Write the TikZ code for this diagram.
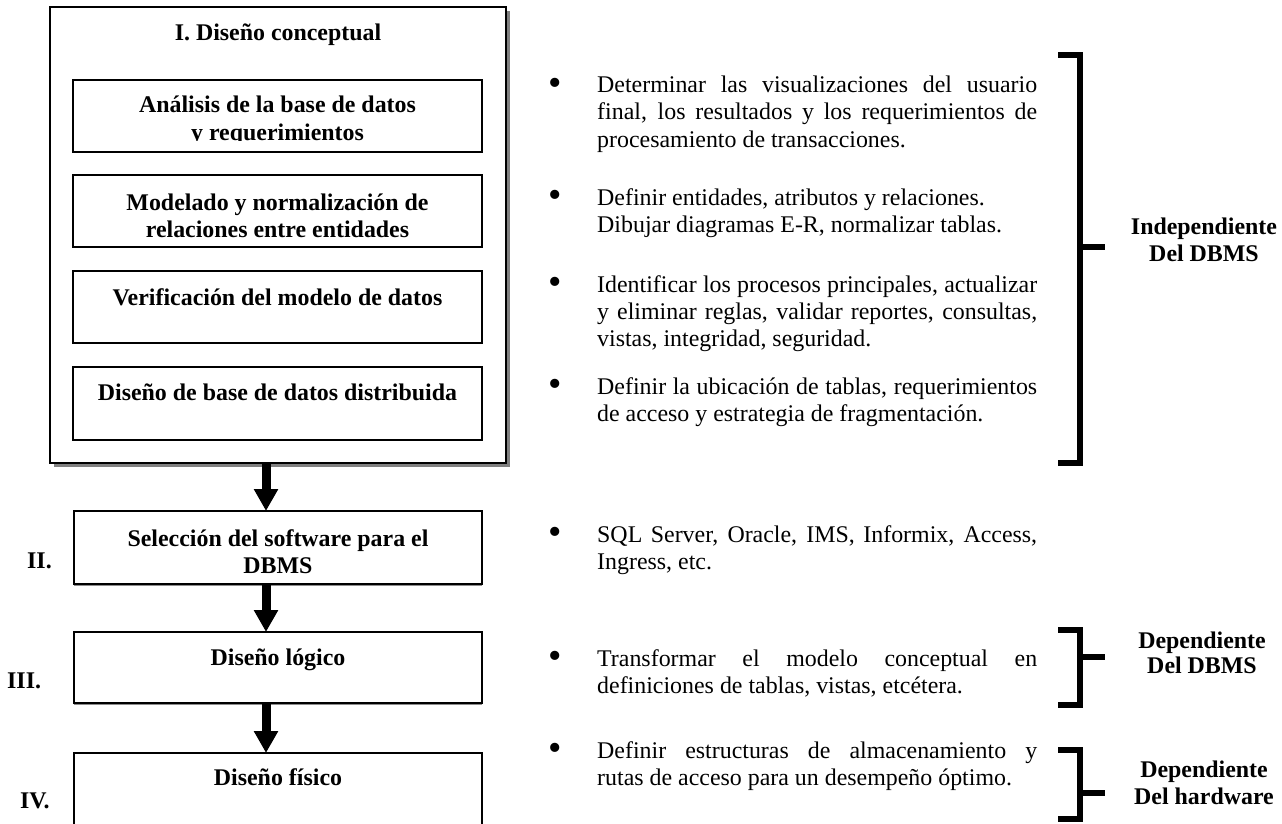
\documentclass[tikz,border=0pt]{standalone}
\usepackage{fontspec}
\usepackage{graphicx}
\setmainfont{Liberation Serif}
\usetikzlibrary{arrows.meta,shadows}
\begin{document}
\begin{tikzpicture}[x=1pt,y=-1pt,
  box/.style={draw=black, line width=2pt, fill=white, inner sep=0pt, outer sep=0pt, anchor=north west},
  bigshadow/.style={drop shadow={shadow xshift=4pt, shadow yshift=-4pt, fill=black!50, opacity=1}},
  thinshadow/.style={drop shadow={shadow xshift=0pt, shadow yshift=-2pt, fill=black!45, opacity=1}},
  bt/.style={font=\fontsize{23.9}{27.4}\selectfont\bfseries, inner sep=0pt, anchor=base},
  lt/.style={font=\fontsize{23.9}{27.4}\selectfont\bfseries, inner sep=0pt, anchor=base west},
  rt/.style={font=\fontsize{23.9}{27.4}\selectfont, inner sep=0pt, anchor=base west},
  bul/.style={font=\fontsize{23.9}{27.4}\selectfont, inner sep=0pt, anchor=base west, yshift=-2.5pt},
  flow/.style={line width=9pt, -{Triangle[width=23pt,length=22pt]}},
  brk/.style={line width=6pt}]
\clip (0,0) rectangle (1282,824);
\fill[white] (0,0) rectangle (1282,824);

% ---------- left column boxes ----------
\node[box, bigshadow, minimum width=456pt, minimum height=456pt] (outer) at (50,7) {};
\node[box, minimum width=409pt, minimum height=72pt] (c1) at (73,80) {};
\node[box, minimum width=409pt, minimum height=72pt] (c2) at (73,175) {};
\node[box, minimum width=409pt, minimum height=72pt] (c3) at (73,271) {};
\node[box, minimum width=409pt, minimum height=73pt] (c4) at (73,367) {};
\node[box, thinshadow, minimum width=408pt, minimum height=73pt] (b2) at (74,511) {};
\node[box, thinshadow, minimum width=408pt, minimum height=71pt] (b3) at (74,632) {};
\node[box, minimum width=408pt, minimum height=90pt] (b4) at (74,753) {};

% texts in boxes
\node[bt] (t0) at (278,41) {I. Diseño conceptual};
\begin{scope}
\clip (73,80) rectangle (482,140.5);
\node[bt] (t1a) at (277.5,113) {Análisis de la base de datos};
\node[bt] (t1b) at (277.5,140) {y requerimientos};
\end{scope}
\node[bt] (t2a) at (277.5,210) {Modelado y normalización de};
\node[bt] (t2b) at (277.5,237) {relaciones entre entidades};
\node[bt] (t3) at (277.5,305) {Verificación del modelo de datos};
\node[bt] (t4) at (277.5,400) {Diseño de base de datos distribuida};
\node[bt] (s2a) at (278,546) {Selección del software para el};
\node[bt] (s2b) at (278,573) {DBMS};
\node[bt] (s3) at (278,665) {Diseño lógico};
\node[bt] (s4) at (278,785) {Diseño físico};

% roman labels
\node[lt] (r2) at (27,568) {II.};
\node[lt] (r3) at (7,688) {III.};
\node[lt] (r4) at (20,808) {IV.};

% arrows
\coordinate (ax) at (266,0);
\draw[flow] (outer.south -| ax) -- (b2.north -| ax);
\draw[flow] (b2.south -| ax) -- (b3.north -| ax);
\draw[flow] (b3.south -| ax) -- (b4.north -| ax);

% ---------- right column text ----------
\def\jl#1{\makebox[440pt][s]{#1}}
\def\bu{\scalebox{1.6}{\textbullet}}
\node[bul] (u1) at (548,93) {\bu};
\node[rt] (p1a) at (597,93) {\jl{Determinar las visualizaciones del usuario}};
\node[rt] (p1b) at (597,120) {\jl{final, los resultados y los requerimientos de}};
\node[rt] (p1c) at (597,147) {procesamiento de transacciones.};

\node[bul] (u2) at (548,205) {\bu};
\node[rt] (p2a) at (597,205) {Definir entidades, atributos y relaciones.};
\node[rt] (p2b) at (597,232) {Dibujar diagramas E-R, normalizar tablas.};

\node[bul] (u3) at (548,292) {\bu};
\node[rt] (p3a) at (597,292) {\jl{Identificar los procesos principales, actualizar}};
\node[rt] (p3b) at (597,319) {\jl{y eliminar reglas, validar reportes, consultas,}};
\node[rt] (p3c) at (597,346) {vistas, integridad, seguridad.};

\node[bul] (u4) at (548,394) {\bu};
\node[rt] (p4a) at (597,394) {\jl{Definir la ubicación de tablas, requerimientos}};
\node[rt] (p4b) at (597,421) {de acceso y estrategia de fragmentación.};

\node[bul] (u5) at (548,542) {\bu};
\node[rt] (p5a) at (597,542) {\jl{SQL Server, Oracle, IMS, Informix, Access,}};
\node[rt] (p5b) at (597,569) {Ingress, etc.};

\node[bul] (u6) at (548,666) {\bu};
\node[rt] (p6a) at (597,666) {\jl{Transformar el modelo conceptual en}};
\node[rt] (p6b) at (597,693) {definiciones de tablas, vistas, etcétera.};

\node[bul] (u7) at (548,758) {\bu};
\node[rt] (p7a) at (597,758) {\jl{Definir estructuras de almacenamiento y}};
\node[rt] (p7b) at (597,785) {rutas de acceso para un desempeño óptimo.};

% ---------- brackets ----------
\draw[brk] (1058,55) -- (1080,55) -- (1080,463) -- (1058,463);
\draw[brk] (1080,247) -- (1105,247);
\node[bt] (k1a) at (1204,234) {Independiente};
\node[bt] (k1b) at (1204,261) {Del DBMS};

\draw[brk] (1058,630) -- (1080,630) -- (1080,705) -- (1058,705);
\draw[brk] (1080,657) -- (1105,657);
\node[bt] (k2a) at (1202,648) {Dependiente};
\node[bt] (k2b) at (1202,673) {Del DBMS};

\draw[brk] (1058,750) -- (1080,750) -- (1080,819) -- (1058,819);
\draw[brk] (1080,793) -- (1105,793);
\node[bt] (k3a) at (1204,777) {Dependiente};
\node[bt] (k3b) at (1204,804) {Del hardware};
\end{tikzpicture}
\end{document}
